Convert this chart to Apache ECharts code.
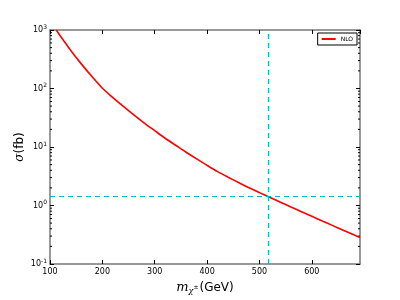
<!DOCTYPE html>
<html><head><meta charset="utf-8">
<script src="https://cdn.jsdelivr.net/npm/echarts@6/dist/echarts.min.js"></script>
<style>html,body{margin:0;padding:0;background:#fff}#c{width:400px;height:300px}</style>
</head><body><div id="c"></div>
<script>
// chargino mass (GeV)
const masses = [112,120,140,160,180,200,220,240,260,280,300,320,340,360,380,400,420,440,460,480,500,520,540,560,580,600,620,640,660,680,692];
// NLO cross section (fb)
const xsecNLO = [1000,780,443,261,160,101,70,49.5,35.5,25.7,19.0,14.1,10.7,8.13,6.25,4.85,3.80,3.05,2.47,2.01,1.66,1.37,1.14,0.944,0.785,0.653,0.543,0.453,0.378,0.316,0.283];
const limitMass = 517;
const limitXsec = 1.43;
const xTicks = [100,200,300,400,500,600];
const yTicks = [0.1,1,10,100,1000];
const minorY = [0.2,0.3,0.4,0.5,0.6,0.7,0.8,0.9,2,3,4,5,6,7,8,9,20,30,40,50,60,70,80,90,200,300,400,500,600,700,800,900];

const chart = echarts.init(document.getElementById('c'), null, {renderer:'canvas'});
const F = 'DejaVu Sans';
const axisLine = {show:true, lineStyle:{color:'#777', width:1.5}};
const yLabel = {
  fontFamily:F, color:'#000', margin:3,
  formatter: v => '{b|10}{s|' + Math.round(Math.log10(v)) + '}',
  rich:{ b:{fontSize:8, fontFamily:F, color:'#000'}, s:{fontSize:6, fontFamily:F, color:'#000', padding:[0,0,6,0]} }
};
const dash = {color:'#00bfbf', type:[5,4], width:1.2};
chart.setOption({
  animation:false,
  grid:{left:50, right:40, top:30, bottom:30, containLabel:false},
  legend:{
    data:['NLO'], right:43, top:33, orient:'vertical',
    borderColor:'#000', borderWidth:1, padding:[3,4,3,4],
    itemWidth:14, itemHeight:2, itemGap:2,
    textStyle:{fontFamily:F, fontSize:6, color:'#000'},
    icon:'rect'
  },
  xAxis:[{
    type:'value', min:100, max:692, interval:100, position:'bottom',
    axisLine, splitLine:{show:false},
    axisTick:{inside:true, length:4, lineStyle:{color:'#000'}},
    axisLabel:{fontFamily:F, fontSize:8, color:'#000', margin:4,
      formatter: v => xTicks.includes(v) ? String(v) : '', showMaxLabel:false},
    name:'{i|m}{sub|χ}{sup|±}{n|(GeV)}', nameLocation:'middle', nameGap:17,
    nameTextStyle:{rich:{
      i:{fontFamily:'DejaVu Serif', fontStyle:'italic', fontSize:13, color:'#000'},
      sub:{fontFamily:'DejaVu Serif', fontStyle:'italic', fontSize:8, color:'#000', padding:[6,0,0,0]},
      sup:{fontFamily:F, fontSize:6, color:'#000', padding:[0,0,2,0]},
      n:{fontFamily:F, fontSize:12, color:'#000', padding:[0,0,0,1]}
    }}
  },{
    type:'value', min:100, max:692, interval:100, position:'top',
    axisLine, splitLine:{show:false},
    axisTick:{inside:true, length:4, lineStyle:{color:'#000'}},
    axisLabel:{show:false}
  }],
  yAxis:[{
    type:'log', logBase:10, min:0.1, max:1000, position:'left',
    axisLine, splitLine:{show:false},
    axisTick:{inside:true, length:4, lineStyle:{color:'#000'}},
    axisLabel:yLabel,
    name:'{i|σ}{n|(fb)}', nameLocation:'middle', nameGap:24, nameRotate:90,
    nameMoveOverlap:false,
    nameTextStyle:{rich:{
      i:{fontFamily:'DejaVu Serif', fontStyle:'italic', fontSize:12, color:'#000'},
      n:{fontFamily:F, fontSize:12, color:'#000'}
    }}
  },{
    type:'log', logBase:10, min:0.1, max:1000, position:'right',
    axisLine, splitLine:{show:false},
    axisTick:{inside:true, length:4, lineStyle:{color:'#000'}},
    axisLabel:{show:false}
  }],
  series:[{
    name:'NLO', type:'line', showSymbol:false, symbol:'none', smooth:0.3,
    data: masses.map((m,i)=>[m, xsecNLO[i]]),
    lineStyle:{color:'#ff0000', width:1.6}, itemStyle:{color:'#ff0000'},
    clip:true, z:3,
    markLine:{
      symbol:'none', silent:true, label:{show:false}, lineStyle:dash,
      data:[{xAxis:limitMass, lineStyle:dash},{yAxis:limitXsec, lineStyle:dash}]
    }
  },{
    name:'minor', type:'custom', silent:true,
    data: minorY.map(v=>[100, v]),
    renderItem:(params, api) => {
      const y = api.coord([100, api.value(1)])[1];
      const cs = params.coordSys;
      return {type:'group', children:[
        {type:'line', shape:{x1:cs.x, y1:y, x2:cs.x+2, y2:y}, style:{stroke:'#000', lineWidth:1}},
        {type:'line', shape:{x1:cs.x+cs.width-2, y1:y, x2:cs.x+cs.width, y2:y}, style:{stroke:'#000', lineWidth:1}}
      ]};
    }
  }]
});
</script></body></html>
